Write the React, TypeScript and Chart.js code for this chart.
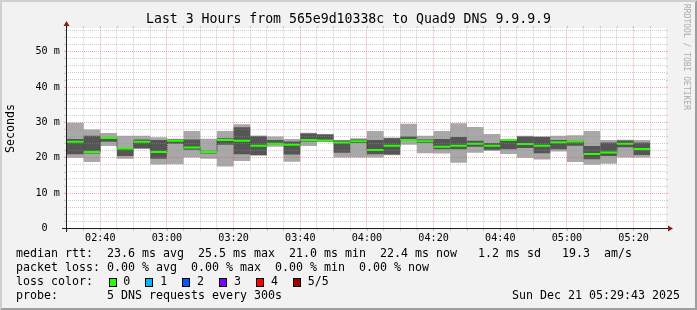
import React, { useEffect, useRef } from "react";
import { Chart, registerables } from "chart.js";

Chart.register(...registerables);

// ---------- data ----------
const windowStart = "02:29:43";
const windowEnd = "05:29:43";
const barStarts = [
  "02:30", "02:35", "02:40", "02:45", "02:50", "02:55", "03:00", "03:05", "03:10", "03:15",
  "03:20", "03:25", "03:30", "03:35", "03:40", "03:45", "03:50", "03:55", "04:00", "04:05",
  "04:10", "04:15", "04:20", "04:25", "04:30", "04:35", "04:40", "04:45", "04:50", "04:55",
  "05:00", "05:05", "05:10", "05:15", "05:20",
];
// five pings per step, sorted: min, 2nd, median, 4th, max (ms)
const pingMin = [20.0, 18.8, 23.3, 19.7, 22.5, 18.1, 18.2, 20.1, 19.7, 17.5, 19.1, 20.6, 23.1, 18.9, 23.3, 24.5, 20.1, 20.1, 20.1, 20.7, 23.7, 21.3, 21.2, 18.6, 21.4, 21.9, 21.1, 20.0, 19.5, 21.8, 18.8, 18.0, 18.3, 20.1, 20.1];
const ping2 = [21.0, 21.2, 24.5, 20.5, 22.7, 19.7, 24.0, 22.3, 21.2, 23.7, 21.0, 20.8, 23.8, 20.9, 24.6, 24.6, 21.4, 24.2, 21.0, 20.9, 24.8, 24.2, 22.4, 22.4, 23.1, 22.3, 22.4, 22.8, 21.3, 22.4, 23.4, 19.6, 20.5, 23.0, 20.8];
const pingMedian = [24.5, 21.6, 25.6, 22.6, 24.5, 21.6, 24.8, 22.9, 21.6, 25.0, 24.8, 23.4, 24.0, 23.7, 25.0, 24.9, 24.3, 24.7, 22.2, 23.4, 25.0, 24.7, 23.1, 23.4, 24.0, 23.4, 25.0, 23.9, 23.4, 24.4, 24.6, 21.1, 21.5, 24.0, 22.5];
const ping4 = [25.3, 26.2, 25.8, 22.8, 25.2, 25.0, 25.2, 25.2, 22.0, 25.5, 28.6, 26.1, 25.0, 24.6, 26.9, 26.6, 24.9, 25.2, 25.0, 25.5, 26.0, 25.2, 25.3, 25.9, 24.8, 24.2, 25.1, 26.0, 25.9, 25.0, 24.8, 23.3, 24.3, 24.9, 24.3];
const pingMax = [29.9, 28.0, 27.0, 26.2, 26.2, 25.8, 25.4, 27.6, 25.4, 27.6, 29.5, 26.3, 26.0, 25.3, 27.1, 26.7, 25.0, 25.5, 27.6, 25.7, 29.6, 26.2, 27.6, 29.8, 28.7, 26.7, 25.2, 26.2, 26.1, 26.2, 26.4, 27.6, 25.0, 25.1, 25.0];

const xTickLabels = ["02:40", "03:00", "03:20", "03:40", "04:00", "04:20", "04:40", "05:00", "05:20"];
const yTickLabels = ["0", "10 m", "20 m", "30 m", "40 m", "50 m"];
const yMaxMs = 56.56;
const stepMinutes = 5;

const titleText = "Last 3 Hours from 565e9d10338c to Quad9 DNS 9.9.9.9";
const yTitle = "Seconds";
const medianLine = "median rtt:  23.6 ms avg  25.5 ms max  21.0 ms min  22.4 ms now   1.2 ms sd   19.3  am/s";
const lossLine = "packet loss: 0.00 % avg  0.00 % max  0.00 % min  0.00 % now";
const lossColorTitle = "loss color:";
const lossLabels = ["0", "1", "2", "3", "4", "5/5"];
const lossColors = ["#26ff00", "#00b8ff", "#0059ff", "#7e00ff", "#ff0000", "#a10000"];
const probeLine = "probe:       5 DNS requests every 300s";
const dateText = "Sun Dec 21 05:29:43 2025";
const watermark = "RRDTOOL / TOBI OETIKER";

// ---------- styling ----------
const MONO = "'DejaVu Sans Mono', monospace";
const LIGHT = "#a8a8a8";
const DARK = "#555555";
const GRID_MINOR = "rgba(143,143,143,0.75)";
const GRID_MAJOR = "rgba(222,79,79,0.6)";
const W_MINOR = 0.6;
const W_MAJOR = 0.8;
const AXIS = "#1f1f1f";
const ARROW = "#801f1f";

const toMin = (s: string) => {
  const p = s.split(":").map(Number);
  return p[0] * 60 + p[1] + (p[2] || 0) / 60;
};
const starts = barStarts.map(toMin);
const xTickValues = xTickLabels.map(toMin);
const yTickValues = yTickLabels.map((l) => parseFloat(l));
const isXMajor = (v: number) => xTickValues.some((t) => Math.abs(t - v) < 0.01);
const isYMajor = (v: number) => yTickValues.some((t) => Math.abs(t - v) < 0.001);

function bandSeries(vals: number[]) {
  const pts: { x: number; y: number }[] = [];
  starts.forEach((s, i) => {
    pts.push({ x: s, y: vals[i] }, { x: s + stepMinutes, y: vals[i] });
  });
  return pts;
}
function segmentSeries(vals: number[]) {
  const pts: { x: number; y: number | null }[] = [];
  starts.forEach((s, i) => {
    pts.push({ x: s, y: vals[i] }, { x: s + stepMinutes, y: vals[i] }, { x: s + stepMinutes, y: null });
  });
  return pts;
}
function stepSeries(vals: number[]) {
  const pts = starts.map((s, i) => ({ x: s, y: vals[i] }));
  pts.push({ x: starts[starts.length - 1] + stepMinutes, y: vals[vals.length - 1] });
  return pts;
}

const bgPlugin = {
  id: "rrdBg",
  beforeDraw(chart: any) {
    const { ctx, width, height, chartArea } = chart;
    ctx.save();
    ctx.fillStyle = "#f2f2f2";
    ctx.fillRect(0, 0, width, height);
    ctx.fillStyle = "#cfcfcf";
    ctx.beginPath();
    ctx.moveTo(0, height);
    ctx.lineTo(2, height - 2);
    ctx.lineTo(2, 2);
    ctx.lineTo(width - 2, 2);
    ctx.lineTo(width, 0);
    ctx.lineTo(0, 0);
    ctx.closePath();
    ctx.fill();
    ctx.fillStyle = "#9e9e9e";
    ctx.beginPath();
    ctx.moveTo(2, height - 2);
    ctx.lineTo(width - 2, height - 2);
    ctx.lineTo(width - 2, 2);
    ctx.lineTo(width, 0);
    ctx.lineTo(width, height);
    ctx.lineTo(0, height);
    ctx.closePath();
    ctx.fill();
    ctx.fillStyle = "#ffffff";
    const t = Math.floor(chartArea.top);
    ctx.fillRect(chartArea.left, t, chartArea.right - chartArea.left, Math.ceil(chartArea.bottom) - t);
    ctx.restore();
  },
  afterDraw(chart: any) {
    const { ctx, chartArea, scales } = chart;
    const xs = scales.x;
    const ys = scales.y;
    const L = Math.round(chartArea.left) + 0.5;
    const R = Math.round(chartArea.right);
    const T = Math.floor(chartArea.top);
    const B = Math.floor(chartArea.bottom) + 0.5;
    ctx.save();
    xs.ticks.forEach((t: any) => {
      const major = isXMajor(t.value);
      const w = major ? W_MAJOR : W_MINOR;
      const px = Math.round(xs.getPixelForValue(t.value) - w / 2) + w / 2;
      ctx.lineWidth = w;
      ctx.strokeStyle = major ? GRID_MAJOR : GRID_MINOR;
      ctx.beginPath();
      ctx.moveTo(px, T - 2);
      ctx.lineTo(px, T);
      ctx.moveTo(px, B);
      ctx.lineTo(px, B + 2.5);
      ctx.stroke();
    });
    ys.ticks.forEach((t: any) => {
      const major = isYMajor(t.value);
      const w = major ? W_MAJOR : W_MINOR;
      const py = Math.round(ys.getPixelForValue(t.value) - w / 2) + w / 2;
      ctx.lineWidth = w;
      ctx.strokeStyle = major ? GRID_MAJOR : GRID_MINOR;
      ctx.beginPath();
      ctx.moveTo(L - 2.5, py);
      ctx.lineTo(L, py);
      ctx.moveTo(R, py);
      ctx.lineTo(R + 2, py);
      ctx.stroke();
    });
    ctx.lineWidth = 1;
    ctx.strokeStyle = AXIS;
    ctx.beginPath();
    ctx.moveTo(L - 4.5, B);
    ctx.lineTo(R + 4, B);
    ctx.moveTo(L, B + 3.5);
    ctx.lineTo(L, T - 4);
    ctx.stroke();
    ctx.fillStyle = ARROW;
    ctx.beginPath();
    ctx.moveTo(R + 2, B - 3);
    ctx.lineTo(R + 2, B + 3);
    ctx.lineTo(R + 7, B);
    ctx.closePath();
    ctx.fill();
    ctx.beginPath();
    ctx.moveTo(L - 3, T - 2);
    ctx.lineTo(L + 3, T - 2);
    ctx.lineTo(L, T - 7);
    ctx.closePath();
    ctx.fill();
    ctx.restore();
  },
};

export default function App() {
  const ref = useRef<HTMLCanvasElement | null>(null);

  useEffect(() => {
    if (!ref.current) return;
    const xGrid: number[] = [];
    for (let v = starts[0]; v <= starts[starts.length - 1] + stepMinutes + 0.001; v += stepMinutes) xGrid.push(v);
    const yGrid: number[] = [];
    for (let v = 0; v <= yMaxMs; v += 2) yGrid.push(v);

    const chart = new Chart(ref.current, {
      type: "line",
      data: {
        datasets: [
          { label: "max", data: bandSeries(pingMax), fill: "+1", backgroundColor: LIGHT, borderColor: "transparent", borderWidth: 0, pointRadius: 0, order: 10 },
          { label: "min", data: bandSeries(pingMin), fill: false, borderColor: "transparent", borderWidth: 0, pointRadius: 0, order: 11 },
          { label: "q4", data: bandSeries(ping4), fill: "+1", backgroundColor: DARK, borderColor: "transparent", borderWidth: 0, pointRadius: 0, order: 8 },
          { label: "q2", data: bandSeries(ping2), fill: false, borderColor: "transparent", borderWidth: 0, pointRadius: 0, order: 9 },
          { label: "medstep", data: stepSeries(pingMedian), stepped: "before", fill: false, borderColor: "#202020", borderWidth: 1, borderDash: [1, 1], pointRadius: 0, order: 2 },
          { label: "median", data: segmentSeries(pingMedian), fill: false, borderColor: lossColors[0], borderWidth: 2, pointRadius: 0, spanGaps: false, order: 1 },
        ] as any,
      },
      options: {
        animation: false,
        responsive: false,
        devicePixelRatio: 1,
        events: [],
        layout: { padding: 0 },
        plugins: {
          legend: { display: false },
          tooltip: { enabled: false },
          title: {
            display: true,
            text: titleText,
            color: "#000",
            font: { family: MONO, size: 13.2, weight: "normal" as any, lineHeight: 1.2 },
            padding: { top: 12, bottom: 0.66 },
          },
        },
        scales: {
          x: {
            type: "linear",
            min: toMin(windowStart),
            max: toMin(windowEnd),
            afterBuildTicks: (axis: any) => {
              axis.ticks = xGrid.map((v) => ({ value: v }));
            },
            afterFit: (s: any) => {
              s.height = 81.5;
            },
            ticks: {
              autoSkip: false,
              maxRotation: 0,
              minRotation: 0,
              padding: 3.6,
              color: "#000",
              font: { family: MONO, size: 10.15 },
              callback: (v: any) => {
                const i = xTickValues.findIndex((t) => Math.abs(t - v) < 0.01);
                return i >= 0 ? xTickLabels[i] : "";
              },
            },
            grid: {
              z: 1,
              drawTicks: false,
              lineWidth: (c: any) => (c.tick && isXMajor(c.tick.value) ? W_MAJOR : W_MINOR),
              color: (c: any) => (c.tick && isXMajor(c.tick.value) ? GRID_MAJOR : GRID_MINOR),
            },
            border: { display: false, dash: [1, 1] },
          },
          y: {
            type: "linear",
            position: "left",
            min: 0,
            max: yMaxMs,
            afterBuildTicks: (axis: any) => {
              axis.ticks = yGrid.map((v) => ({ value: v }));
            },
            afterFit: (s: any) => {
              s.width = 66;
            },
            ticks: {
              autoSkip: false,
              padding: 6.2,
              color: "#000",
              font: { family: MONO, size: 10.15 },
              callback: (v: any) => {
                const i = yTickValues.findIndex((t) => Math.abs(t - v) < 0.001);
                if (i < 0) return "";
                const l = yTickLabels[i];
                return l.includes(" ") ? l : l + "  ";
              },
            },
            title: {
              display: true,
              text: yTitle,
              color: "#000",
              font: { family: MONO, size: 11.63 },
              padding: { top: 3.5, bottom: 0 },
            },
            grid: {
              z: 1,
              drawTicks: false,
              lineWidth: (c: any) => (c.tick && isYMajor(c.tick.value) ? W_MAJOR : W_MINOR),
              color: (c: any) => (c.tick && isYMajor(c.tick.value) ? GRID_MAJOR : GRID_MINOR),
            },
            border: { display: false, dash: [1, 1] },
          },
          yRight: {
            type: "linear",
            position: "right",
            display: true,
            afterFit: (s: any) => {
              s.width = 31;
            },
            ticks: { display: false },
            grid: { display: false, drawTicks: false },
            border: { display: false },
          },
        },
      } as any,
      plugins: [bgPlugin],
    });
    return () => chart.destroy();
  }, []);

  const rowTop = (k: number) => 247.3 + 14 * k;
  const textStyle: React.CSSProperties = {
    position: "absolute",
    fontFamily: MONO,
    fontSize: "11.63px",
    lineHeight: "13.9px",
    whiteSpace: "pre",
    color: "#000",
    margin: 0,
  };

  return (
    <div style={{ position: "absolute", left: 0, top: 0, width: 697, height: 310, overflow: "hidden" }}>
      <canvas ref={ref} width={697} height={310} style={{ position: "absolute", left: 0, top: 0, width: 697, height: 310 }} />
      <div
        style={{
          position: "absolute",
          left: 682,
          top: 4,
          writingMode: "vertical-rl",
          fontFamily: MONO,
          fontSize: "8px",
          lineHeight: "9px",
          color: "#aaaaaa",
          whiteSpace: "pre",
        }}
      >
        {watermark}
      </div>
      <div style={{ ...textStyle, left: 16, top: rowTop(0) }}>{medianLine}</div>
      <div style={{ ...textStyle, left: 16, top: rowTop(1) }}>{lossLine}</div>
      <div style={{ ...textStyle, left: 16, top: rowTop(2) }}>{lossColorTitle}</div>
      {lossLabels.map((l, i) => (
        <React.Fragment key={l}>
          <div
            style={{
              position: "absolute",
              left: 108.5 + 36.9 * i,
              top: rowTop(2) + 3,
              width: 6,
              height: 7,
              background: lossColors[i],
              border: "1px solid #000",
            }}
          />
          <div style={{ ...textStyle, left: 123.3 + 36.9 * i, top: rowTop(2) }}>{l}</div>
        </React.Fragment>
      ))}
      <div style={{ ...textStyle, left: 16, top: rowTop(3) }}>{probeLine}</div>
      <div style={{ ...textStyle, right: 17, top: rowTop(3) }}>{dateText}</div>
    </div>
  );
}
